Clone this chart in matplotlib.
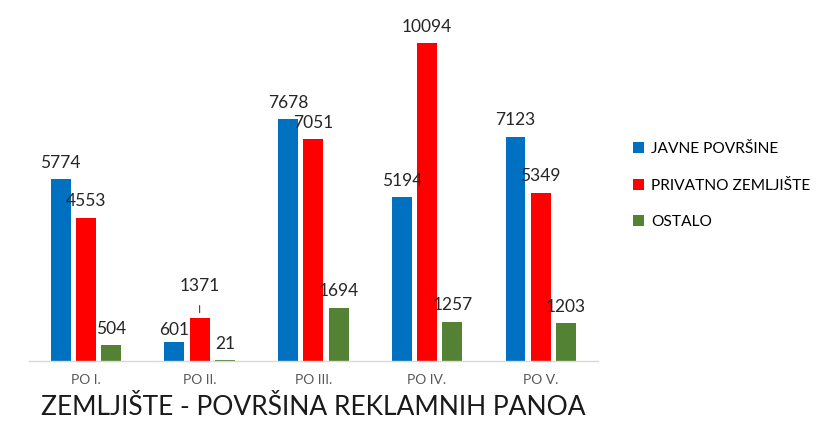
import numpy as np
import matplotlib.pyplot as plt

plt.rcParams['font.family'] = ['Lato', 'DejaVu Sans']

categories = ['PO I.', 'PO II.', 'PO III.', 'PO IV.', 'PO V.']
javne = [5774, 601, 7678, 5194, 7123]
privatno = [4553, 1371, 7051, 10094, 5349]
ostalo = [504, 21, 1694, 1257, 1203]
series_names = ['JAVNE POVRŠINE', 'PRIVATNO ZEMLJIŠTE', 'OSTALO']
colors = ['#0070C0', '#FF0000', '#548235']

fig = plt.figure(figsize=(8.3, 4.32), dpi=100)
ax = fig.add_axes([0.035, 0.164, 0.685, 0.813])

x = np.arange(len(categories))
w = 0.175
off = 0.222
for i, (vals, name, c) in enumerate(zip([javne, privatno, ostalo], series_names, colors)):
    xs = x + (i - 1) * off
    ax.bar(xs, vals, width=w, color=c, label=name)
    for xx, v in zip(xs, vals):
        if v == 1371:
            # label lifted above with a short leader line
            ax.annotate(str(v), (xx, v), xytext=(0, 17), textcoords='offset points',
                        ha='center', va='bottom', fontsize=12.5, color='#262626')
            ax.annotate('', (xx, v + 80), xytext=(xx, v + 480),
                        arrowprops=dict(arrowstyle='-', color='#404040', lw=0.8))
        elif v == 601:
            ax.annotate(str(v), (xx, v), xytext=(0, 3), textcoords='offset points',
                        ha='center', va='bottom', fontsize=12.5, color='#262626')
        else:
            ax.annotate(str(v), (xx, v), xytext=(0, 6), textcoords='offset points',
                        ha='center', va='bottom', fontsize=12.5, color='#262626')

ax.set_xlim(-0.5, len(categories) - 0.5)
ax.set_ylim(0, 11141)
ax.set_xticks(x)
ax.set_xticklabels(categories, fontsize=10, color='#595959')
ax.tick_params(axis='x', length=0, pad=9)
ax.set_yticks([])
for s in ['top', 'right', 'left']:
    ax.spines[s].set_visible(False)
ax.spines['bottom'].set_color('#D9D9D9')
ax.spines['bottom'].set_linewidth(1.0)

ax.set_xlabel('ZEMLJIŠTE - POVRŠINA REKLAMNIH PANOA', fontsize=19, color='#1a1a1a', labelpad=7)

ax.legend(loc='center left', bbox_to_anchor=(1.038, 0.50), frameon=False, fontsize=11.2,
          handlelength=0.7, handleheight=0.7, handletextpad=0.45, labelspacing=1.45)

fig.savefig('out.png', dpi=100)
